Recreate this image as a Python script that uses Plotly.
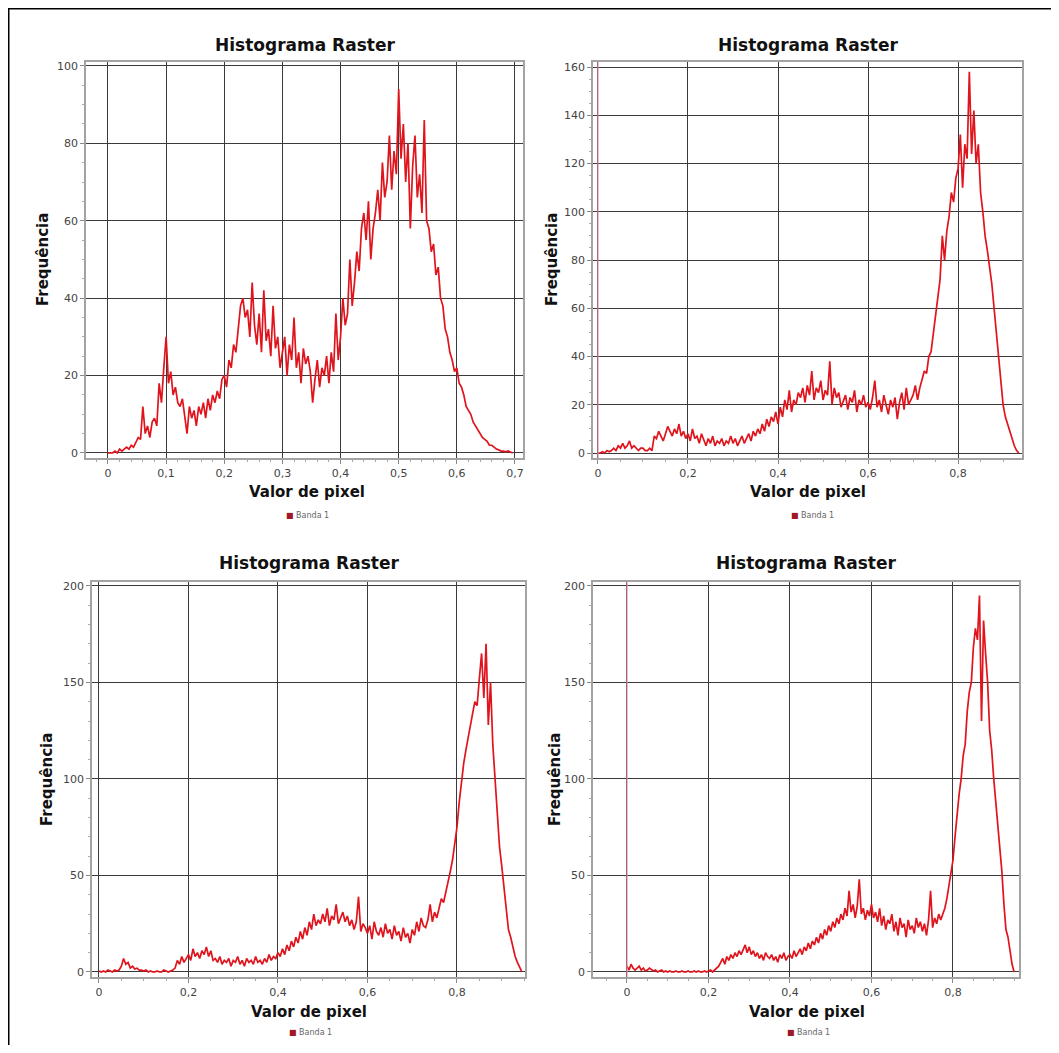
import plotly.graph_objects as go

# ---------------- data ----------------
bin_width_a = 0.004
freq_a = [
    0, 0, 0, 0.5, 0, 1, 0.5, 1, 1.5, 1, 2, 1.5, 3, 4, 3.5, 12, 5, 7, 4, 8, 9, 7, 18, 13, 22,
    30, 18, 21, 15, 17, 13, 12, 14, 10, 5, 12, 9, 11, 7, 12, 10, 13, 9, 14, 11, 15, 13, 16, 14, 19,
    20, 17, 24, 22, 28, 26, 33, 38, 40, 35, 37, 30, 44, 33, 28, 36, 26, 42, 29, 32, 25, 38, 27, 30, 22,
    26, 30, 20, 28, 24, 35, 22, 26, 18, 27, 23, 25, 21, 13, 19, 24, 17, 22, 20, 25, 18, 26, 21, 36, 24,
    30, 40, 33, 36, 50, 38, 44, 52, 47, 58, 62, 55, 65, 50, 58, 62, 68, 60, 75, 66, 70, 82, 68, 78, 72,
    94, 76, 85, 70, 80, 58, 74, 82, 66, 72, 62, 86, 60, 58, 52, 54, 46, 48, 40, 38, 32, 30, 26, 24, 21,
    22, 18, 17, 15, 12, 11, 10, 8, 7, 6, 5, 4, 3.5, 3, 2, 2, 1.5, 1, 0.8, 0.5, 0.5, 0.3, 0.5, 0.2, 0,
]

bin_width_b = 0.005
freq_b = [
    0, 0, 0.5, 0, 1, 0.5, 1, 2, 1, 3, 2, 4, 2, 3, 5, 2, 3, 2, 1, 2,
    2, 1, 1, 2, 1, 7, 6, 9, 7, 5, 8, 11, 9, 7, 10, 8, 12, 7, 9, 6,
    8, 5, 10, 6, 7, 4, 8, 5, 3, 6, 4, 7, 3, 5, 4, 6, 3, 5, 4, 7,
    4, 6, 3, 5, 7, 4, 6, 8, 5, 9, 7, 10, 8, 12, 9, 14, 11, 15, 13, 17,
    12, 19, 15, 22, 18, 26, 17, 22, 20, 25, 23, 27, 21, 28, 24, 34, 22, 27, 25, 30,
    22, 26, 24, 38, 20, 27, 23, 25, 19, 22, 24, 18, 23, 21, 26, 17, 22, 20, 24, 19,
    21, 18, 23, 30, 19, 22, 17, 24, 20, 16, 22, 19, 23, 14, 21, 25, 18, 27, 20, 22,
    24, 28, 22, 27, 30, 34, 33, 40, 42, 50, 56, 64, 72, 90, 80, 92, 98, 108, 104, 114,
    118, 132, 110, 128, 122, 158, 124, 142, 120, 128, 108, 100, 90, 84, 78, 70, 60, 50, 38, 28,
    20, 15, 12, 8, 5, 3, 1, 0,
]

bin_width_c = 0.005
freq_c = [
    0.5, 0, 0.5, 0, 1, 0.5, 0, 1, 0.5, 1, 3, 7, 4, 5, 2, 3, 1.5, 2, 1, 1,
    0.5, 1, 0, 0.5, 0, 0, 0.5, 0, 0, 1, 0.5, 0, 0.5, 1, 2, 6, 4, 8, 5, 7,
    9, 6, 12, 8, 10, 7, 11, 9, 13, 8, 11, 6, 7, 5, 8, 4, 6, 5, 7, 3,
    6, 5, 8, 4, 6, 3, 7, 5, 6, 4, 8, 5, 6, 4, 7, 5, 9, 6, 8, 7,
    10, 8, 12, 9, 14, 11, 16, 13, 18, 15, 21, 17, 23, 19, 26, 22, 30, 24, 27, 25,
    30, 26, 33, 24, 29, 27, 35, 25, 28, 31, 26, 29, 24, 27, 22, 26, 39, 21, 25, 23,
    20, 24, 17, 26, 21, 19, 23, 18, 25, 20, 22, 17, 24, 19, 21, 16, 23, 18, 20, 15,
    22, 19, 26, 21, 28, 24, 23, 27, 35, 26, 31, 28, 33, 38, 36, 42, 47, 52, 58, 66,
    75, 88, 100, 108, 115, 122, 128, 134, 140, 138, 152, 165, 142, 170, 128, 150, 118, 100, 82, 65,
    55, 45, 32, 22, 18, 12, 8, 5, 2, 0,
]

bin_width_d = 0.005
freq_d = [
    3, 1, 4, 2, 1, 2, 3, 1, 2, 0.5, 1, 2, 1, 0.5, 1, 0, 0.5, 1, 0, 0.5,
    0, 0.5, 0, 0, 0.5, 0, 0, 0.5, 0, 0, 0.5, 0, 0, 0.5, 0, 0.5, 0, 0, 0.5, 0,
    0.5, 1, 0, 1, 2, 3, 5, 7, 4, 8, 6, 9, 7, 10, 8, 11, 9, 12, 14, 10,
    13, 9, 11, 8, 10, 7, 9, 6, 10, 8, 7, 9, 6, 8, 5, 9, 7, 10, 6, 8,
    9, 7, 11, 8, 10, 12, 9, 13, 11, 15, 12, 16, 14, 18, 15, 20, 17, 22, 19, 24,
    21, 26, 23, 28, 25, 30, 27, 33, 29, 42, 31, 35, 28, 34, 48, 30, 33, 27, 32, 29,
    35, 28, 31, 26, 33, 24, 29, 22, 27, 25, 30, 21, 26, 19, 28, 23, 25, 18, 27, 22,
    24, 20, 28, 23, 26, 21, 25, 19, 27, 42, 23, 28, 25, 30, 27, 30, 33, 38, 44, 50,
    58, 70, 82, 92, 100, 112, 118, 135, 145, 150, 168, 178, 172, 195, 130, 182, 165, 150, 125, 115,
    100, 88, 75, 62, 52, 35, 22, 18, 10, 4, 0,
]

titles = ["Histograma Raster"] * 4
x_title = "Valor de pixel"
y_title = "Frequência"
series_name = "Banda 1"

x_ticks_a = [0, 0.1, 0.2, 0.3, 0.4, 0.5, 0.6, 0.7]
x_ticks_b = [0, 0.2, 0.4, 0.6, 0.8]
y_ticks_a = [0, 20, 40, 60, 80, 100]
y_ticks_b = [0, 20, 40, 60, 80, 100, 120, 140, 160]
y_ticks_c = [0, 50, 100, 150, 200]

# ---------------- layout helpers ----------------
W, H = 1043, 1037
OFF = 8  # page body margin


def fx(p):
    return (p - OFF) / W


def fy(p):
    return 1 - (p - OFF) / H


panels = [
    dict(box=(86, 523, 62, 458), xr=[-0.0378, 0.7138], yr=[-1.3, 101.0], xt=x_ticks_a, yt=y_ticks_a, mdx=0.02, mdy=5,
         title=(305, 45), xt_pos=(307, 492), yt_pos=(43, 260), leg=(307, 515)),
    dict(box=(593, 1022, 62, 458), xr=[-0.011, 0.942], yr=[-2.07, 162.1], xt=x_ticks_b, yt=y_ticks_b, mdx=0.05, mdy=5,
         title=(808, 45), xt_pos=(808, 492), yt_pos=(552, 260), leg=(812, 515)),
    dict(box=(92, 525, 582, 977), xr=[-0.0156, 0.952], yr=[-2.6, 202.0], xt=x_ticks_b, yt=y_ticks_c, mdx=0.05, mdy=10,
         title=(309, 563), xt_pos=(309, 1012), yt_pos=(47, 780), leg=(310, 1032)),
    dict(box=(593, 1019, 582, 977), xr=[-0.0834, 0.962], yr=[-2.6, 202.0], xt=x_ticks_b, yt=y_ticks_c, mdx=0.05, mdy=10,
         title=(806, 563), xt_pos=(807, 1012), yt_pos=(555, 780), leg=(808, 1032)),
]

series = [(freq_a, bin_width_a), (freq_b, bin_width_b), (freq_c, bin_width_c), (freq_d, bin_width_d)]

fig = go.Figure()
FONT = "DejaVu Sans"
LINE_RED = "#e0141c"

annotations = []
shapes = []
layout_axes = {}

for i, (p, (freq, bw)) in enumerate(zip(panels, series)):
    n = "" if i == 0 else str(i + 1)
    xs = [round(k * bw, 4) for k in range(len(freq))]
    fig.add_trace(go.Scatter(
        x=xs, y=freq, mode="lines", name=series_name, showlegend=False,
        line=dict(color=LINE_RED, width=1.7),
        xaxis="x" + n, yaxis="y" + n,
    ))
    l, r, t, b = p["box"]
    common = dict(
        showline=True, mirror=True, linecolor="#a3a3a3", linewidth=1.5,
        showgrid=True, gridcolor="#3a3a3a", gridwidth=1.2, zeroline=False,
        ticks="outside", ticklen=4, tickcolor="#888",
        tickfont=dict(family=FONT, size=11, color="#444"),
        automargin=False,
    )
    layout_axes["xaxis" + n] = dict(
        common, domain=[fx(l), fx(r)], range=p["xr"], tickvals=p["xt"],
        anchor="y" + n,
        minor=dict(ticks="outside", ticklen=2, tickcolor="#aaa", dtick=p["mdx"], tick0=0, showgrid=False),
    )
    layout_axes["yaxis" + n] = dict(
        common, domain=[fy(b), fy(t)], range=p["yr"], tickvals=p["yt"],
        anchor="x" + n,
        minor=dict(ticks="outside", ticklen=2, tickcolor="#aaa", dtick=p["mdy"], tick0=0, showgrid=False),
    )
    tx, ty = p["title"]
    annotations.append(dict(text="<b>%s</b>" % titles[i], x=fx(tx), y=fy(ty), xref="paper", yref="paper",
                            showarrow=False, xanchor="center", yanchor="middle",
                            font=dict(family=FONT, size=17, color="#111")))
    ax_, ay_ = p["xt_pos"]
    annotations.append(dict(text="<b>%s</b>" % x_title, x=fx(ax_), y=fy(ay_), xref="paper", yref="paper",
                            showarrow=False, xanchor="center", yanchor="middle",
                            font=dict(family=FONT, size=15, color="#111")))
    yx, yy = p["yt_pos"]
    annotations.append(dict(text="<b>%s</b>" % y_title, x=fx(yx), y=fy(yy), xref="paper", yref="paper",
                            showarrow=False, xanchor="center", yanchor="middle", textangle=-90,
                            font=dict(family=FONT, size=15, color="#111")))
    lx, ly = p["leg"]
    annotations.append(dict(text="<span style='color:#a01828'>■</span> %s" % series_name,
                            x=fx(lx), y=fy(ly), xref="paper", yref="paper",
                            showarrow=False, xanchor="center", yanchor="middle",
                            font=dict(family=FONT, size=8, color="#666")))

# QGIS-style min marker lines at x = 0 (panels 2 and 4)
for n in ["2", "4"]:
    shapes.append(dict(type="line", xref="x" + n, yref="y" + n + " domain", x0=0, x1=0, y0=0, y1=1,
                       line=dict(color="rgba(225,140,160,0.8)", width=1.5), layer="above"))

# outer frame (top and left edges visible)
shapes.append(dict(type="line", xref="paper", yref="paper", x0=0, x1=1, y0=1, y1=1,
                   line=dict(color="black", width=3)))
shapes.append(dict(type="line", xref="paper", yref="paper", x0=fx(8.5), x1=fx(8.5), y0=0, y1=1,
                   line=dict(color="black", width=2)))

fig.update_layout(
    width=W, height=H,
    margin=dict(l=0, r=0, t=0, b=0),
    paper_bgcolor="white", plot_bgcolor="white",
    separators=", ",
    font=dict(family=FONT),
    annotations=annotations, shapes=shapes,
    **layout_axes,
)

fig.write_html("out.html")
